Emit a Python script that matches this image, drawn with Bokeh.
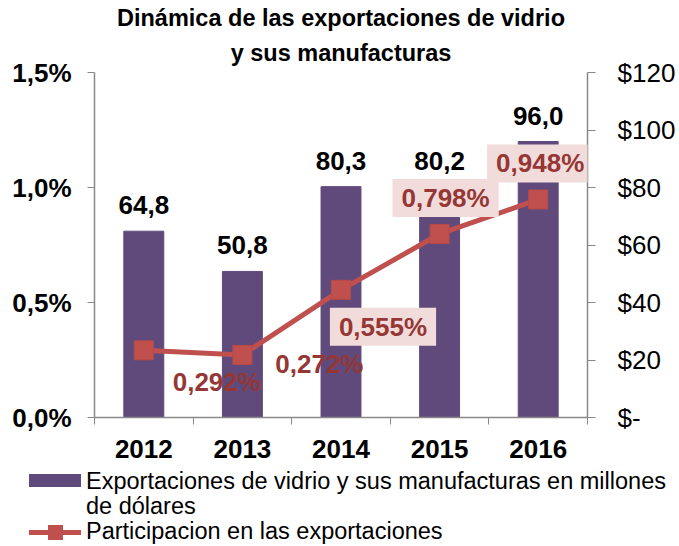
from bokeh.plotting import figure
from bokeh.models import (Range1d, LinearAxis, FixedTicker, Label,
                          ColumnDataSource, Title, Div)
from bokeh.layouts import column
from bokeh.embed import file_html
from bokeh.resources import INLINE
from bokeh.core.properties import value

# ---------------- data ----------------
years = ["2012", "2013", "2014", "2015", "2016"]
exports_musd = [64.8, 50.8, 80.3, 80.2, 96.0]
share_pct = [0.292, 0.272, 0.555, 0.798, 0.948]
left_ticks = [0.0, 0.5, 1.0, 1.5]
left_tick_labels = ["0,0%", "0,5%", "1,0%", "1,5%"]
right_ticks = [0, 20, 40, 60, 80, 100, 120]
right_tick_labels = ["$-", "$20", "$40", "$60", "$80", "$100", "$120"]
title_lines = ["Dinámica de las exportaciones de vidrio", "y sus manufacturas"]
legend_bar = "Exportaciones de vidrio y sus manufacturas en millones\nde dólares"
legend_line = "Participacion en las exportaciones"

# ---------------- style ----------------
FONT = "Liberation Sans"
BAR = "#604A7B"
LINE = "#C0504D"
LBL = "#953735"
BOX = "#F2DCDB"
AX = "#898989"
pct_offsets = [(73, -32), (77, -9), (42, -37), (6, 36), (2, 36)]
pct_boxes = [None, None, BOX, BOX, BOX]

xs = [i + 0.5 for i in range(len(years))]
src = ColumnDataSource(dict(
    x=xs, exp=exports_musd, pct=share_pct,
    exp_lbl=[f"{v:.1f}".replace(".", ",") for v in exports_musd],
))

p = figure(width=679, height=468, output_backend="svg", toolbar_location=None,
           x_range=Range1d(0, len(years)), y_range=Range1d(0, 1.5),
           min_border_left=94, min_border_right=92, min_border_top=72,
           min_border_bottom=51, background_fill_color="white",
           border_fill_color="white")
p.outline_line_color = None
p.grid.visible = False
p.extra_y_ranges = {"usd": Range1d(0, 120)}

# x axis
xa = p.xaxis[0]
xa.ticker = FixedTicker(ticks=xs, minor_ticks=list(range(len(years) + 1)))
xa.major_label_overrides = {x: y for x, y in zip(xs, years)}
xa.major_tick_out = 0
xa.major_tick_in = 0
xa.minor_tick_out = 7
xa.minor_tick_in = 0
xa.minor_tick_line_color = AX
xa.axis_line_color = AX
xa.axis_line_width = 1.5
xa.major_label_standoff = 15
xa.major_label_text_font = FONT
xa.major_label_text_font_size = "26px"
xa.major_label_text_font_style = "bold"
xa.major_label_text_color = "black"

# left axis
ya = p.yaxis[0]
ya.ticker = FixedTicker(ticks=left_ticks, minor_ticks=[])
ya.major_label_overrides = {t: l for t, l in zip(left_ticks, left_tick_labels)}
ya.major_tick_out = 7
ya.major_tick_in = 0
ya.major_tick_line_color = AX
ya.axis_line_color = AX
ya.axis_line_width = 1.5
ya.major_label_standoff = 16
ya.major_label_text_font = FONT
ya.major_label_text_font_size = "26px"
ya.major_label_text_font_style = "bold"
ya.major_label_text_color = "black"

# right axis
ra = LinearAxis(y_range_name="usd",
                ticker=FixedTicker(ticks=right_ticks, minor_ticks=[]))
ra.major_label_overrides = {t: l for t, l in zip(right_ticks, right_tick_labels)}
ra.major_tick_out = 8
ra.major_tick_in = 0
ra.major_tick_line_color = AX
ra.axis_line_color = AX
ra.axis_line_width = 1.5
ra.major_label_standoff = 22
ra.major_label_text_font = FONT
ra.major_label_text_font_size = "26px"
ra.major_label_text_color = "black"
p.add_layout(ra, "right")

# bars
bars = p.vbar(x="x", top="exp", width=0.405, source=src, y_range_name="usd",
              fill_color=BAR, line_color=BAR)
p.text(x="x", y="exp", text="exp_lbl", source=src, y_range_name="usd",
       y_offset=-26, text_align="center", text_baseline="middle",
       text_font=value(FONT), text_font_size="26px", text_font_style="bold",
       text_color="black")

# line
ln = p.line(x="x", y="pct", source=src, line_color=LINE, line_width=5)
sq = p.scatter(x="x", y="pct", source=src, marker="square", size=19,
               fill_color=LINE, line_color="#B84A47")

for i, (x, v) in enumerate(zip(xs, share_pct)):
    dx, dy = pct_offsets[i]
    lab = Label(x=x, y=v, x_offset=dx, y_offset=dy,
                text=f"{v:.3f}".replace(".", ",") + "%",
                text_font=FONT, text_font_size="26px", text_font_style="bold",
                text_color=LBL, text_align="center", text_baseline="middle",
                background_fill_color=pct_boxes[i], padding=(9, 4))
    p.add_layout(lab)

# title: two lines, the one added first sits nearest the frame
for txt, so, lh in [(title_lines[1], 14, 0.85), (title_lines[0], 0, 1.0)]:
    p.add_layout(Title(text=txt, align="center", text_font=FONT,
                       text_font_size="23.5px", text_font_style="bold",
                       text_line_height=lh, text_color="black", standoff=so),
                 "above")

# ---------------- legend strip ----------------
l1, l2 = legend_bar.split("\n")
legend_html = f"""
<div style="position:relative;width:679px;height:78px;font-family:'{FONT}';
font-size:23.5px;color:black;line-height:1;white-space:nowrap;">
<div style="position:absolute;left:24px;top:1px;width:52px;height:13px;background:{BAR};"></div>
<div style="position:absolute;left:81px;top:-3.5px;">{l1}</div>
<div style="position:absolute;left:81px;top:21.5px;">{l2}</div>
<div style="position:absolute;left:24px;top:56.5px;width:52px;height:5px;background:{LINE};"></div>
<div style="position:absolute;left:42.5px;top:51.5px;width:15px;height:15px;background:{LINE};"></div>
<div style="position:absolute;left:81px;top:46.5px;">{legend_line}</div>
</div>"""
lg = Div(text=legend_html, width=679, height=78)

open("out.html", "w").write(file_html(column(p, lg), INLINE))
